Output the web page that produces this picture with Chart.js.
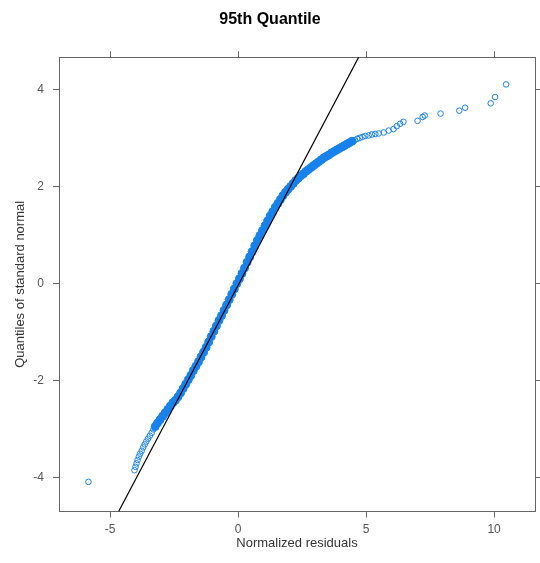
<!DOCTYPE html>
<html>
<head>
<meta charset="utf-8">
<script src="https://cdn.jsdelivr.net/npm/chart.js@4"></script>
<style>
  html, body { margin: 0; padding: 0; background: #fff; }
  #wrap { width: 540px; height: 563px; }
</style>
</head>
<body>
<div id="wrap"><canvas id="qq"></canvas></div>
<script>
// normalized residuals (x) and standard normal quantiles (y)
var residuals = [
  -5.85,
  -4.05, -4.01, -3.97, -3.93, -3.88, -3.83, -3.77, -3.71, -3.65, -3.59, -3.52, -3.45, -3.38, -3.31, -3.24,
  -3.15, -3.05, -2.95, -2.85, -2.75, -2.65, -2.55, -2.45, -2.35, -2.25, -2.15, -2.05, -1.95, -1.85,
  -1.75, -1.65, -1.55, -1.45, -1.35, -1.25, -1.15, -1.05, -0.95, -0.85, -0.75, -0.65, -0.55, -0.45,
  -0.35, -0.25, -0.15, -0.05, 0.05, 0.15, 0.25, 0.35, 0.45, 0.55, 0.65, 0.75, 0.85, 0.95,
  1.05, 1.15, 1.25, 1.35, 1.45, 1.55, 1.65, 1.75, 1.85, 1.95, 2.05, 2.15, 2.25, 2.35, 2.45,
  2.55, 2.65, 2.75, 2.85, 2.95, 3.05, 3.15, 3.25, 3.35, 3.45, 3.55, 3.65, 3.75, 3.85, 3.95,
  4.05, 4.15, 4.25, 4.35, 4.45,
  4.55, 4.65, 4.75, 4.86, 4.97, 5.10, 5.23, 5.36, 5.49, 5.69, 5.88, 6.07, 6.20, 6.33, 6.46,
  7.01, 7.21, 7.29, 7.91, 8.64, 8.87, 9.87, 10.04, 10.47
];
var quantiles = [
  -4.08,
  -3.84, -3.77, -3.70, -3.63, -3.56, -3.50, -3.44, -3.37, -3.31, -3.25, -3.19, -3.13, -3.07, -3.00, -2.94,
  -2.87, -2.80, -2.73, -2.66, -2.59, -2.52, -2.45, -2.40, -2.33, -2.25, -2.16, -2.07, -1.98, -1.89,
  -1.79, -1.70, -1.61, -1.51, -1.41, -1.31, -1.20, -1.09, -0.98, -0.87, -0.76, -0.66, -0.55, -0.44,
  -0.33, -0.22, -0.11, 0.00, 0.10, 0.21, 0.32, 0.44, 0.55, 0.66, 0.78, 0.89, 0.99, 1.09,
  1.19, 1.29, 1.39, 1.48, 1.57, 1.65, 1.73, 1.81, 1.88, 1.94, 2.00, 2.06, 2.12, 2.17, 2.22,
  2.26, 2.31, 2.35, 2.39, 2.43, 2.47, 2.51, 2.55, 2.59, 2.62, 2.65, 2.69, 2.72, 2.75, 2.78,
  2.81, 2.84, 2.87, 2.90, 2.93,
  2.95, 2.98, 3.00, 3.02, 3.04, 3.05, 3.07, 3.08, 3.09, 3.11, 3.15, 3.18, 3.24, 3.29, 3.33,
  3.35, 3.43, 3.46, 3.50, 3.56, 3.62, 3.71, 3.84, 4.10
];

// reference line through the quartiles
var lineX = [-4.67, 4.71];
var lineY = [-4.69, 4.66];

var xTicks = [-5, 0, 5, 10];
var yTicks = [-4, -2, 0, 2, 4];

var blue = '#1882ec';
var frame = '#666666';
var labelFont = { family: 'Liberation Sans, Arial, sans-serif', size: 12 };

function pairs(xs, ys) {
  return xs.map(function (x, i) { return { x: x, y: ys[i] }; });
}
function setTicks(list) {
  return function (axis) {
    axis.ticks = list.map(function (v) { return { value: v }; });
  };
}
// where the circles pile up the band reads as solid
function inBand(c) {
  return c.raw && c.raw.y > -2.95 && c.raw.y < 2.94;
}

var tickGrid = {
  drawOnChartArea: false,
  drawTicks: true,
  tickLength: 6,
  color: frame
};
var frameBorder = { display: true, color: frame, width: 1 };

new Chart(document.getElementById('qq'), {
  type: 'scatter',
  data: {
    datasets: [{
      label: 'line',
      type: 'line',
      data: pairs(lineX, lineY),
      borderColor: '#000000',
      borderWidth: 1.2,
      pointRadius: 0,
      fill: false,
      order: 0
    }, {
      label: 'residuals',
      data: pairs(residuals, quantiles),
      borderColor: blue,
      borderWidth: 1,
      pointRadius: function (c) { return inBand(c) ? 4 : 2.8; },
      backgroundColor: function (c) { return inBand(c) ? blue : 'rgba(0,0,0,0)'; },
      order: 1
    }]
  },
  options: {
    responsive: true,
    maintainAspectRatio: false,
    animation: false,
    layout: { padding: 0 },
    plugins: {
      legend: { display: false },
      tooltip: { enabled: false },
      title: {
        display: true,
        text: '95th Quantile',
        color: '#000000',
        font: { family: 'Liberation Sans, Arial, sans-serif', size: 16, weight: 'bold' },
        padding: { top: 10, bottom: 22 }
      }
    },
    scales: {
      x: {
        type: 'linear',
        position: 'bottom',
        min: -7.0,
        max: 11.6,
        afterBuildTicks: setTicks(xTicks),
        afterFit: function (s) { s.height = 51.5; },
        grid: tickGrid,
        border: frameBorder,
        ticks: { color: '#555555', font: labelFont, padding: 5, maxRotation: 0 },
        title: {
          display: true,
          text: 'Normalized residuals',
          color: '#333333',
          font: { family: 'Liberation Sans, Arial, sans-serif', size: 13 },
          padding: { top: 0, bottom: 12 }
        }
      },
      x2: {
        type: 'linear',
        position: 'top',
        min: -7.0,
        max: 11.6,
        afterBuildTicks: setTicks(xTicks),
        afterFit: function (s) { s.height = 6; },
        grid: tickGrid,
        border: frameBorder,
        ticks: { display: false }
      },
      y: {
        type: 'linear',
        position: 'left',
        min: -4.69,
        max: 4.66,
        afterBuildTicks: setTicks(yTicks),
        afterFit: function (s) { s.width = 59; },
        grid: tickGrid,
        border: frameBorder,
        ticks: { color: '#555555', font: labelFont, padding: 9 },
        title: {
          display: true,
          text: 'Quantiles of standard normal',
          color: '#333333',
          font: { family: 'Liberation Sans, Arial, sans-serif', size: 13 },
          padding: { top: 13, bottom: 0 }
        }
      },
      y2: {
        type: 'linear',
        position: 'right',
        min: -4.69,
        max: 4.66,
        afterBuildTicks: setTicks(yTicks),
        afterFit: function (s) { s.width = 2.5; },
        grid: tickGrid,
        border: frameBorder,
        ticks: { display: false }
      }
    }
  }
});
</script>
</body>
</html>
